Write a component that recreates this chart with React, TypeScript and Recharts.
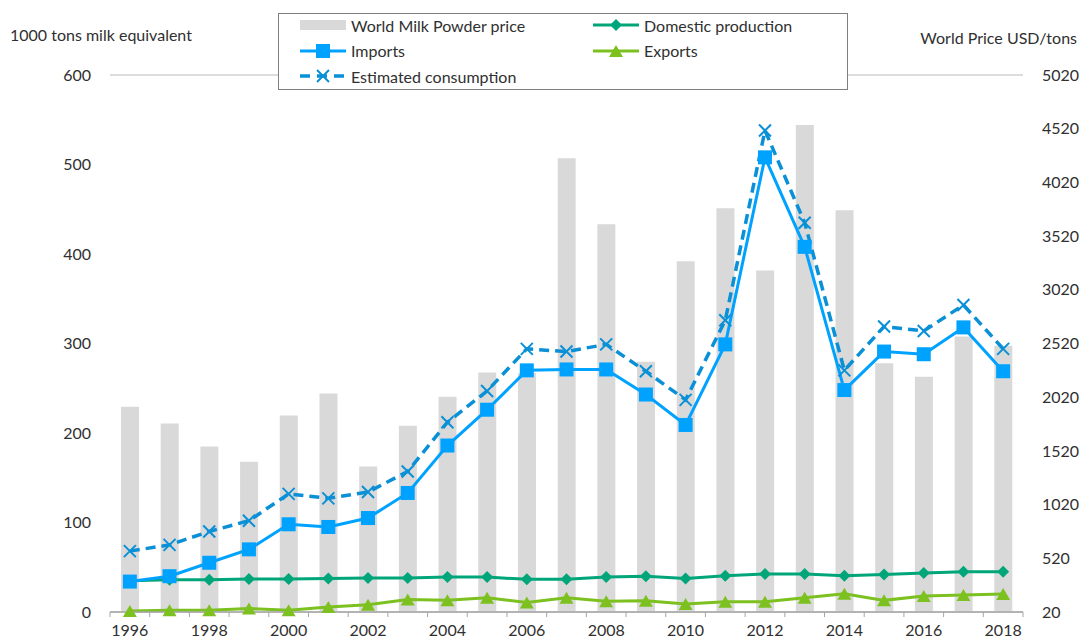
import React from 'react';
import {
    ComposedChart, Bar, Line, XAxis, YAxis, CartesianGrid, Legend,
} from 'recharts';

const years = ['1996', '1997', '1998', '1999', '2000', '2001', '2002', '2003', '2004', '2005', '2006', '2007',
    '2008', '2009', '2010', '2011', '2012', '2013', '2014', '2015', '2016', '2017', '2018'];

// USD/ton, right axis
const worldPrice = [1930, 1775, 1560, 1420, 1850, 2055, 1375, 1755, 2025, 2250, 2245, 4245,
    3630, 2350, 3285, 3780, 3200, 4555, 3760, 2335, 2210, 2585, 2500];

// 1000 tons milk equivalent, left axis
const domestic = [35, 36, 36, 37, 37, 37.5, 38, 38, 39, 39, 36.5, 36.5,
    39, 40, 37.5, 40.5, 42.5, 42.5, 40.5, 42, 43.5, 45, 45];
const imports = [34, 40, 55, 70, 98, 95, 105, 133, 186, 226, 270, 271,
    271, 243, 209, 299, 508, 408, 248, 291, 288, 318, 269];
const exports = [1, 2, 2, 4, 2, 5.5, 8, 14, 13, 16, 10.5, 16,
    12, 12.5, 9, 11.5, 11.5, 16, 20.5, 13, 18, 19, 20];
const consumption = [68, 75, 90, 102, 132, 127, 134, 157, 212, 247, 294, 291,
    299, 269, 237, 326, 538, 435, 270, 319, 314, 343, 294];

const leftTicks = [0, 100, 200, 300, 400, 500, 600];
const rightTicks = [20, 520, 1020, 1520, 2020, 2520, 3020, 3520, 4020, 4520, 5020];

const data = years.map((y, i) => ({
    year: y,
    price: worldPrice[i],
    domestic: domestic[i],
    imports: imports[i],
    exports: exports[i],
    consumption: consumption[i],
}));

const FONT = 'Lato, "Liberation Sans", sans-serif';
const TEXT = '#303030';
const FS = 16;

const C_BAR = '#d9d9d9';
const C_DOM = '#00a67a';
const C_IMP = '#00a2ff';
const C_EXP = '#7cc11f';
const C_CONS = '#0a90d6';

const Square = ({ cx, cy, color }: any) => (
    <rect x={cx - 7} y={cy - 7} width={14} height={14} fill={color} />
);
const Diamond = ({ cx, cy, color }: any) => (
    <path d={`M${cx},${cy - 6} L${cx + 6},${cy} L${cx},${cy + 6} L${cx - 6},${cy} Z`} fill={color} />
);
const Triangle = ({ cx, cy, color }: any) => (
    <path d={`M${cx},${cy - 6} L${cx + 7},${cy + 6} L${cx - 7},${cy + 6} Z`} fill={color} />
);
const Cross = ({ cx, cy, color }: any) => (
    <path d={`M${cx - 6},${cy - 6} L${cx + 6},${cy + 6} M${cx + 6},${cy - 6} L${cx - 6},${cy + 6}`}
        stroke={color} strokeWidth={2} fill="none" />
);

const legendItems = [
    { label: 'World Milk Powder price', kind: 'bar', color: C_BAR, col: 0, row: 0 },
    { label: 'Domestic production', kind: 'diamond', color: C_DOM, col: 1, row: 0 },
    { label: 'Imports', kind: 'square', color: C_IMP, col: 0, row: 1 },
    { label: 'Exports', kind: 'triangle', color: C_EXP, col: 1, row: 1 },
    { label: 'Estimated consumption', kind: 'cross', color: C_CONS, col: 0, row: 2 },
];

const LegendIcon = ({ kind, color }: { kind: string; color: string }) => {
    if (kind === 'bar') {
        return <svg width={46} height={14}><rect x={0} y={2} width={46} height={10} fill={color} /></svg>;
    }
    const dashed = kind === 'cross';
    return (
        <svg width={46} height={14}>
            <line x1={0} y1={7} x2={46} y2={7} stroke={color} strokeWidth={dashed ? 3.5 : 3}
                strokeDasharray={dashed ? '10 7' : undefined} />
            {kind === 'square' && <Square cx={23} cy={7} color={color} />}
            {kind === 'diamond' && <Diamond cx={23} cy={7} color={color} />}
            {kind === 'triangle' && <Triangle cx={23} cy={7} color={color} />}
            {kind === 'cross' && <Cross cx={23} cy={7} color={color} />}
        </svg>
    );
};

const renderLegend = () => (
    <div style={{
        position: 'relative', width: 570, height: 77, boxSizing: 'border-box',
        border: '1.5px solid #7f7f7f', background: '#fff', fontFamily: FONT, fontSize: FS, color: TEXT,
    }}>
        {legendItems.map(it => (
            <div key={it.label} style={{
                position: 'absolute', left: it.col === 0 ? 21 : 314, top: 0 + it.row * 25.5,
                height: 22, display: 'flex', alignItems: 'center', gap: 5, whiteSpace: 'nowrap',
            }}>
                <LegendIcon kind={it.kind} color={it.color} />
                <span>{it.label}</span>
            </div>
        ))}
    </div>
);

const YearTick = (props: any) => {
    const { x, y, payload, index, visibleTicksCount, width } = props;
    const count = visibleTicksCount || years.length;
    const half = (width || 913) / count / 2;
    return (
        <g>
            <line x1={x - half} y1={y} x2={x - half} y2={y + 5} stroke="#a6a6a6" />
            {index === count - 1 && <line x1={x + half} y1={y} x2={x + half} y2={y + 5} stroke="#a6a6a6" />}
            {index % 2 === 0 && (
                <text x={x} y={y + 24} textAnchor="middle" fill={TEXT} fontSize={FS} fontFamily={FONT}>
                    {payload.value}
                </text>
            )}
        </g>
    );
};

export default function App() {
    return (
        <div style={{ position: 'absolute', left: 0, top: 0, width: 1081, height: 640, background: '#fff' }}>
            <div style={{ position: 'absolute', left: 10, top: 25, fontFamily: FONT, fontSize: FS, color: TEXT }}>
                1000 tons milk equivalent
            </div>
            <div style={{ position: 'absolute', right: 4, top: 28, fontFamily: FONT, fontSize: FS, color: TEXT }}>
                World Price USD/tons
            </div>
            <ComposedChart width={1081} height={640} data={data}
                margin={{ top: 75, right: 0, bottom: 4, left: 50 }} barCategoryGap={0}>
                <CartesianGrid vertical={false} stroke="#d0d0d0" strokeWidth={1.3} />
                <XAxis dataKey="year" interval={0} tickSize={0} tickMargin={0} height={24}
                    axisLine={{ stroke: '#a6a6a6', strokeWidth: 1.3 }} tickLine={false} tick={<YearTick />} />
                <YAxis yAxisId="left" domain={[0, 600]} ticks={leftTicks} width={60}
                    axisLine={false} tickLine={false} tickSize={0} tickMargin={19}
                    tick={{ fill: TEXT, fontSize: FS, fontFamily: FONT }} />
                <YAxis yAxisId="right" orientation="right" domain={[20, 5020]} ticks={rightTicks} width={58}
                    axisLine={false} tickLine={false} tickSize={0} tickMargin={19}
                    tick={{ fill: TEXT, fontSize: FS, fontFamily: FONT, textAnchor: 'start' }} />
                <Legend layout="vertical" align="center" verticalAlign="middle" content={renderLegend}
                    wrapperStyle={{ left: 278, top: 13, width: 570, height: 77 }} />
                <Bar yAxisId="right" dataKey="price" name="World Milk Powder price" fill={C_BAR}
                    barSize={18} isAnimationActive={false} />
                <Line yAxisId="left" dataKey="domestic" name="Domestic production" stroke={C_DOM} strokeWidth={3}
                    dot={(p: any) => <Diamond key={p.index} cx={p.cx} cy={p.cy} color={C_DOM} />}
                    activeDot={false} isAnimationActive={false} />
                <Line yAxisId="left" dataKey="exports" name="Exports" stroke={C_EXP} strokeWidth={3}
                    dot={(p: any) => <Triangle key={p.index} cx={p.cx} cy={p.cy} color={C_EXP} />}
                    activeDot={false} isAnimationActive={false} />
                <Line yAxisId="left" dataKey="consumption" name="Estimated consumption" stroke={C_CONS}
                    strokeWidth={3.5} strokeDasharray="10 6"
                    dot={(p: any) => <Cross key={p.index} cx={p.cx} cy={p.cy} color={C_CONS} />}
                    activeDot={false} isAnimationActive={false} />
                <Line yAxisId="left" dataKey="imports" name="Imports" stroke={C_IMP} strokeWidth={3}
                    dot={(p: any) => <Square key={p.index} cx={p.cx} cy={p.cy} color={C_IMP} />}
                    activeDot={false} isAnimationActive={false} />
            </ComposedChart>
        </div>
    );
}
